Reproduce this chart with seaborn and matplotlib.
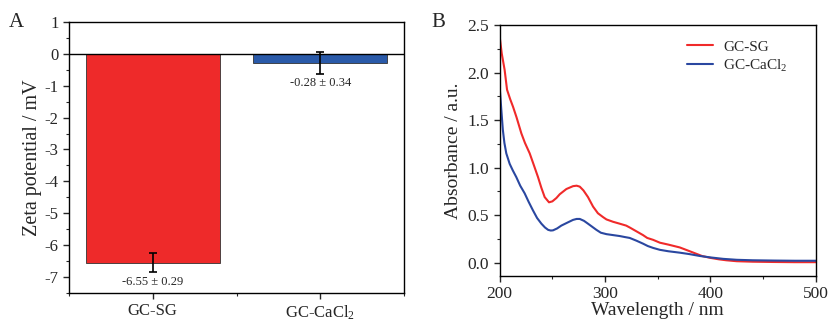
import seaborn as sns
import matplotlib.pyplot as plt
from matplotlib.ticker import MultipleLocator
import pandas as pd

sns.set_style("ticks")
plt.rcParams['font.family'] = ['Liberation Serif', 'DejaVu Serif']
plt.rcParams['mathtext.fontset'] = 'custom'
plt.rcParams['mathtext.rm'] = 'Liberation Serif'
plt.rcParams['mathtext.it'] = 'Liberation Serif:italic'

# Panel A: zeta potential
samples = ["GC-SG", "GC-CaCl$_2$"]
zeta = [-6.55, -0.28]
zeta_sd = [0.29, 0.34]
bar_colors = ["#ee2a2a", "#2a5aa9"]

# Panel B: UV-vis absorbance
wl_sg = [200, 202, 204.7, 207, 210, 212.7, 216, 220.6, 224, 228.5, 232, 236.4, 239.5,
         242.7, 246.8, 250, 253.8, 257, 263.3, 269.6, 273, 276, 279.5, 283.8, 288.6,
         293.2, 298, 301.3, 307.6, 313.9, 320, 323.4, 329.7, 336, 340, 345.6, 352,
         360, 370.9, 378, 385, 392, 400, 408, 415, 425, 440, 460, 480, 500]
abs_sg = [2.38, 2.2, 2.03, 1.82, 1.72, 1.64, 1.53, 1.36, 1.26, 1.15, 1.04, 0.90, 0.79,
          0.69, 0.635, 0.645, 0.68, 0.72, 0.775, 0.805, 0.81, 0.80, 0.76, 0.69, 0.59,
          0.52, 0.48, 0.455, 0.43, 0.41, 0.39, 0.37, 0.33, 0.29, 0.26, 0.24, 0.21,
          0.19, 0.16, 0.13, 0.10, 0.07, 0.05, 0.035, 0.025, 0.015, 0.01, 0.007, 0.005, 0.005]
wl_cacl = [200, 201.5, 203, 204.5, 206.3, 209.5, 212.5, 215.8, 219.5, 223.7, 227.5,
           231.6, 235.5, 239.6, 243, 246, 248.5, 250.6, 254.5, 258.5, 264, 269.6, 273,
           276, 280, 283.8, 287.5, 291.8, 296, 301.3, 307.6, 313.9, 318.5, 323.4, 330,
           336, 340.5, 345.6, 352, 360, 370.9, 380, 390, 400, 412, 425, 440, 460, 480, 500]
abs_cacl = [1.85, 1.62, 1.40, 1.26, 1.15, 1.04, 0.97, 0.90, 0.81, 0.73, 0.64,
            0.55, 0.47, 0.41, 0.37, 0.345, 0.338, 0.34, 0.36, 0.39, 0.42, 0.45, 0.46,
            0.46, 0.44, 0.41, 0.38, 0.345, 0.315, 0.30, 0.29, 0.28, 0.27, 0.26, 0.23,
            0.20, 0.175, 0.155, 0.135, 0.12, 0.105, 0.09, 0.07, 0.055, 0.04, 0.03, 0.025, 0.022, 0.02, 0.02]

df_a = pd.DataFrame({"sample": samples, "zeta": zeta})
df_b = pd.concat([
    pd.DataFrame({"wl": wl_sg, "abs": abs_sg, "sample": "GC-SG"}),
    pd.DataFrame({"wl": wl_cacl, "abs": abs_cacl, "sample": "GC-CaCl$_2$"}),
])

fig = plt.figure(figsize=(8.3, 3.22), dpi=100)
ax1 = fig.add_axes([0.083, 0.090, 0.404, 0.842])
ax2 = fig.add_axes([0.602, 0.143, 0.381, 0.779])

# --- A ---
sns.barplot(data=df_a, x="sample", y="zeta", hue="sample", palette=bar_colors,
            saturation=1, width=0.8, edgecolor="#333333", linewidth=0.6,
            legend=False, ax=ax1)
xpos = range(len(samples))
ax1.errorbar(xpos, zeta, yerr=zeta_sd, fmt="none", ecolor="black",
             elinewidth=1.2, capsize=3, capthick=1.2)
ax1.axhline(0, color="black", linewidth=1.0)
for x, m, s in zip(xpos, zeta, zeta_sd):
    ax1.text(x, m - s - 0.12, f"{m:.2f} ± {s:.2f}", ha="center", va="top", fontsize=9)
ax1.set_xlim(-0.5, 1.5)
ax1.set_ylim(-7.5, 1)
ax1.set_yticks(range(-7, 2))
ax1.set_yticklabels([str(t) for t in range(-7, 2)])
ax1.yaxis.set_minor_locator(MultipleLocator(0.5))
ax1.xaxis.set_minor_locator(MultipleLocator(0.5))
ax1.set_xlabel("")
ax1.set_ylabel("Zeta potential / mV", fontsize=14.5, labelpad=2)
ax1.tick_params(axis="both", which="major", labelsize=12, length=4, width=1, direction="out")
ax1.tick_params(axis="both", which="minor", length=2.5, width=0.8, direction="out")

# --- B ---
sns.lineplot(data=df_b, x="wl", y="abs", hue="sample", palette=["#f02a2a", "#2a47a0"],
             linewidth=1.5, ax=ax2, sort=False)
ax2.set_xlim(200, 500)
ax2.set_ylim(-0.14, 2.5)
ax2.xaxis.set_major_locator(MultipleLocator(100))
ax2.xaxis.set_minor_locator(MultipleLocator(50))
ax2.yaxis.set_major_locator(MultipleLocator(0.5))
ax2.yaxis.set_minor_locator(MultipleLocator(0.25))
ax2.yaxis.set_major_formatter(plt.FormatStrFormatter("%.1f"))
ax2.set_xlabel("Wavelength / nm", fontsize=14, labelpad=0)
ax2.set_ylabel("Absorbance / a.u.", fontsize=14, labelpad=4)
ax2.tick_params(axis="both", which="major", labelsize=12.5, length=4, width=1, direction="out")
ax2.tick_params(axis="both", which="minor", length=2.5, width=0.8, direction="out")
ax2.legend(frameon=False, fontsize=11, loc="upper right", borderaxespad=0,
           bbox_to_anchor=(0.93, 0.965), handlelength=1.7, handletextpad=0.7,
           labelspacing=0.25)

for ax in (ax1, ax2):
    for sp in ax.spines.values():
        sp.set_linewidth(1.0)
        sp.set_color("black")

fig.text(0.010, 0.915, "A", fontsize=15)
fig.text(0.520, 0.915, "B", fontsize=15)

fig.savefig("out.png", dpi=100)
